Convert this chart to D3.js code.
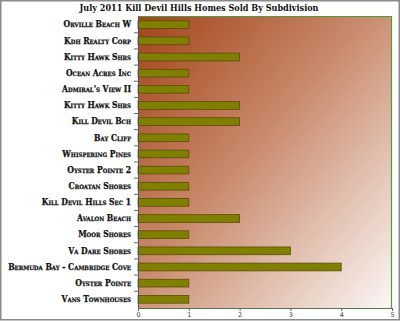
<!DOCTYPE html>
<html>
<head>
<meta charset="utf-8">
<script src="https://cdn.jsdelivr.net/npm/d3@7"></script>
<style>
  body { margin: 0; background: #fff; }
  svg { display: block; }
</style>
</head>
<body>
<svg id="chart"></svg>
<script>
// data
var title = 'July 2011 Kill Devil Hills Homes Sold By Subdivision';
var subdivisions = [
    'Orville Beach W', 'Kdh Realty Corp', 'Kitty Hawk Shrs', 'Ocean Acres Inc',
    "Admiral's View II", 'Kitty Hawk Shrs', 'Kill Devil Bch', 'Bay Cliff',
    'Whispering Pines', 'Oyster Pointe 2', 'Croatan Shores', 'Kill Devil Hills Sec 1',
    'Avalon Beach', 'Moor Shores', 'Va Dare Shores', 'Bermuda Bay - Cambridge Cove',
    'Oyster Pointe', 'Vans Townhouses'
];
var homesSold = [1, 1, 2, 1, 1, 2, 2, 1, 1, 1, 1, 1, 2, 1, 3, 4, 1, 1];
var xTicks = [0, 1, 2, 3, 4, 5];

var svgWidth = 400, svgHeight = 322;
var margin = { top: 16, right: 8, bottom: 14, left: 138 };
var width = svgWidth - margin.left - margin.right;
var height = svgHeight - margin.top - margin.bottom;

var data = subdivisions.map(function (name, i) {
    return { key: i, name: name, value: homesSold[i] };
});

var svg = d3.select('#chart')
    .attr('width', svgWidth)
    .attr('height', svgHeight);

// outer frame
svg.append('rect')
    .attr('x', 0.75).attr('y', 0.75)
    .attr('width', svgWidth - 1.5).attr('height', svgHeight - 3)
    .attr('fill', '#fff')
    .attr('stroke', '#8a8a8a')
    .attr('stroke-width', 1.5);

var defs = svg.append('defs');
var grad = defs.append('linearGradient')
    .attr('id', 'bg')
    .attr('x1', '0%').attr('y1', '0%')
    .attr('x2', '100%').attr('y2', '100%');
grad.append('stop').attr('offset', '0%').attr('stop-color', '#a3431a');
grad.append('stop').attr('offset', '45%').attr('stop-color', '#c98a6c');
grad.append('stop').attr('offset', '100%').attr('stop-color', '#fbf7f5');

svg.append('text')
    .attr('x', 199)
    .attr('y', 11)
    .attr('text-anchor', 'middle')
    .attr('font-family', 'DejaVu Serif Condensed, DejaVu Serif, serif')
    .attr('font-weight', 'bold')
    .attr('font-size', '9px')
    .attr('fill', '#111')
    .text(title);

var g = svg.append('g')
    .attr('transform', 'translate(' + margin.left + ',' + margin.top + ')');

var x = d3.scaleLinear()
    .domain([0, 5])
    .range([0, width]);

var y = d3.scaleBand()
    .domain(data.map(function (d) { return d.key; }))
    .range([0, height])
    .paddingInner(0.52)
    .paddingOuter(0.3);

g.append('rect')
    .attr('width', width)
    .attr('height', height)
    .attr('fill', 'url(#bg)');

// green frame top/right
g.append('path')
    .attr('d', 'M0,0.5H' + (width - 0.5) + 'V' + height)
    .attr('fill', 'none')
    .attr('stroke', '#4f9a45')
    .attr('stroke-width', 1.2);

g.selectAll('.bar')
    .data(data)
    .enter().append('rect')
    .attr('class', 'bar')
    .attr('x', 0)
    .attr('y', function (d) { return y(d.key); })
    .attr('width', function (d) { return x(d.value); })
    .attr('height', y.bandwidth())
    .attr('fill', '#808000')
    .attr('stroke', '#5c4a12')
    .attr('stroke-width', 0.8);

// category axis: ticks sit between bars
var step = y.step();
var yAxis = g.append('g')
    .call(d3.axisLeft(y).tickSize(0).tickPadding(7)
        .tickFormat(function (k) { return subdivisions[k]; }));
yAxis.select('.domain').attr('stroke', '#555');
yAxis.selectAll('text')
    .attr('font-family', 'DejaVu Serif Condensed, DejaVu Serif, serif')
    .attr('font-weight', 'bold')
    .attr('font-size', '8.5px')
    .attr('font-variant', 'small-caps')
    .attr('fill', '#111')
    .attr('stroke', '#111')
    .attr('stroke-width', 0.25);

var sep = d3.range(1, subdivisions.length).map(function (i) {
    return y(i) - (step - y.bandwidth()) / 2;
});
g.selectAll('.sep')
    .data(sep)
    .enter().append('line')
    .attr('class', 'sep')
    .attr('x1', -4).attr('x2', 0)
    .attr('y1', function (d) { return d; })
    .attr('y2', function (d) { return d; })
    .attr('stroke', '#666');

var xAxis = g.append('g')
    .attr('transform', 'translate(0,' + height + ')')
    .call(d3.axisBottom(x).tickValues(xTicks).tickSize(3).tickPadding(1)
        .tickFormat(d3.format('d')));
xAxis.select('.domain').attr('stroke', '#4f7a45');
xAxis.selectAll('line').attr('stroke', '#666');
xAxis.selectAll('text')
    .attr('font-family', 'DejaVu Sans, sans-serif')
    .attr('font-size', '6.5px')
    .attr('fill', '#444');
</script>
</body>
</html>
